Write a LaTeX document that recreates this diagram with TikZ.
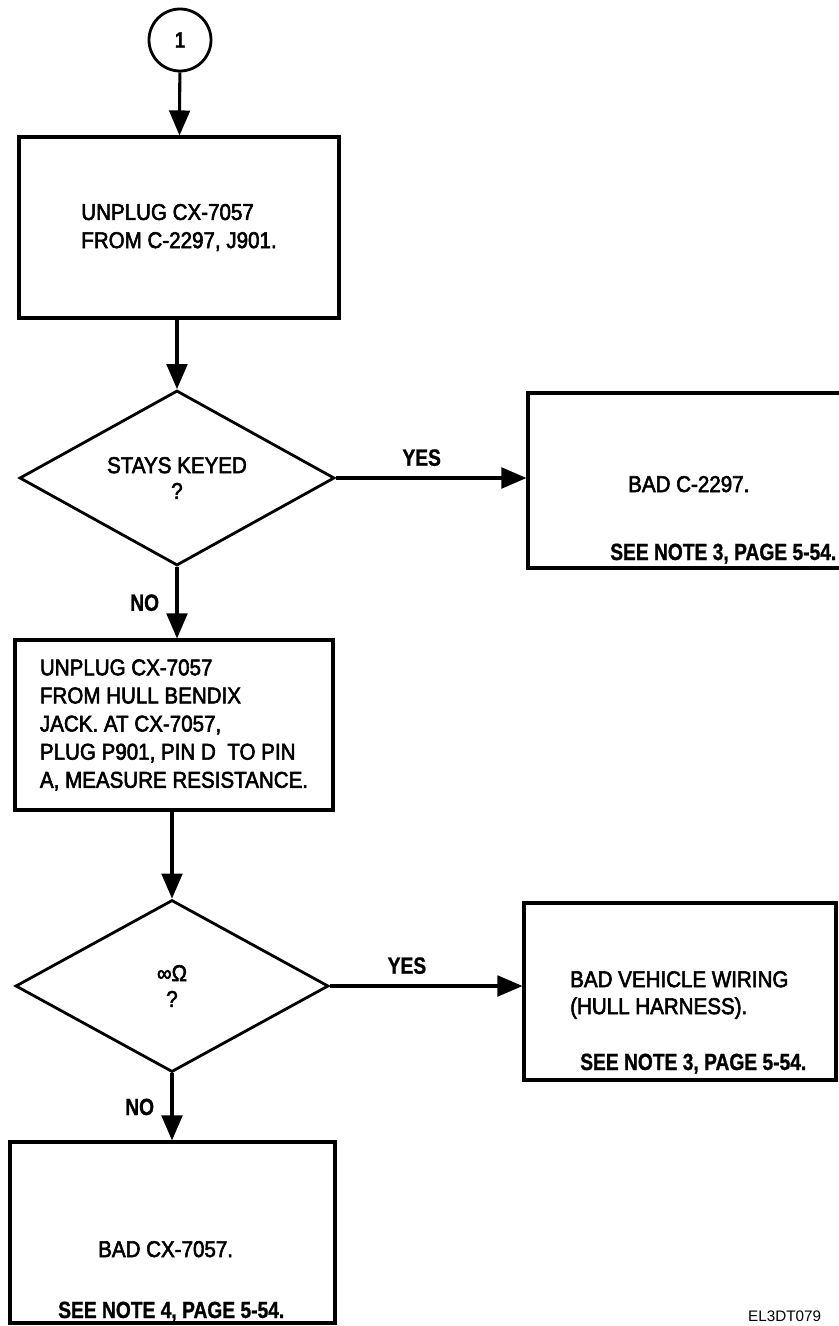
\documentclass[tikz,border=0pt]{standalone}
\usepackage{fontspec}
\setmainfont{Liberation Sans}[FakeStretch=0.9, FakeBold=2.5]
\newfontfamily\notefont{Liberation Sans}[FakeStretch=0.82, FakeBold=1]
\newfontfamily\tagfont{Liberation Sans}
\usetikzlibrary{shapes.geometric, arrows.meta, positioning}

\tikzset{
  stepbox/.style={draw, rectangle, line width=2.6pt, inner sep=0pt},
  askbox/.style={draw, diamond, aspect=1.8, line width=2.4pt, inner sep=0pt, align=center,
    font=\fontsize{19.5}{22}\selectfont},
  flow/.style={line width=2.6pt, -{Triangle[length=0.75cm, width=0.62cm]}},
  txt/.style={font=\fontsize{19.5}{23}\selectfont, align=left, inner sep=0pt},
  note/.style={font=\notefont\bfseries\fontsize{20}{23}\selectfont, inner sep=0pt},
}

\begin{document}
\begin{tikzpicture}[x=0.03cm, y=-0.03cm]
  \useasboundingbox (0,0) rectangle (838,1326);

  % ================= start =================
  \node[draw, circle, line width=2.4pt, minimum size=1.86cm, inner sep=0pt,
    font=\notefont\bfseries\fontsize{19}{22}\selectfont] (c1) at (180,40) {1};

  \node[stepbox, minimum width=9.6cm, minimum height=5.43cm] (step1) at (179,227.5) {};
  \node[txt] (step1t) at (step1.center)
    {UNPLUG CX-7057\\[1pt]FROM C-2297, J901.};

  % ================= first check =================
  \node[askbox, minimum width=9.45cm, minimum height=5.25cm] (d1) at (177,478)
    {STAYS KEYED\\?};

  \node[stepbox, minimum width=9.51cm, minimum height=5.25cm] (bad1) at (686.5,480.5) {};
  \node[txt, anchor=base west] (bad1t) at (628,492) {BAD C-2297.};
  \node[note, anchor=base west] (bad1n) at (610,560) {SEE NOTE 3, PAGE 5-54.};

  \node[stepbox, minimum width=9.54cm, minimum height=5.1cm] (step2) at (174,725) {};
  \node[txt, font=\fontsize{19.5}{24}\selectfont] (step2t) at (step2.center)
    {UNPLUG CX-7057\\FROM HULL BENDIX\\JACK. AT CX-7057,\\PLUG P901, PIN D\ \ TO PIN\\A, MEASURE RESISTANCE.};

  % ================= second check =================
  \node[askbox, minimum width=9.39cm, minimum height=5.16cm] (d2) at (172,986)
    {∞Ω\\?};

  \node[stepbox, minimum width=9.36cm, minimum height=5.31cm] (bad2) at (680,991.5) {};
  \node[txt, anchor=west] (bad2t) at (570,995)
    {BAD VEHICLE WIRING\\(HULL HARNESS).};
  \node[note, anchor=base west] (bad2n) at (580,1070) {SEE NOTE 3, PAGE 5-54.};

  \node[stepbox, minimum width=9.75cm, minimum height=5.43cm] (bad3) at (172.5,1232.5) {};
  \node[txt, anchor=base west] (bad3t) at (98,1257) {BAD CX-7057.};
  \node[note, anchor=base west] (bad3n) at (58,1318) {SEE NOTE 4, PAGE 5-54.};

  \node[font=\tagfont\fontsize{13}{13}\selectfont, anchor=base west, inner sep=0pt] (tag) at (748,1321) {EL3DT079};

  % ================= connectors =================
  \draw[flow] (c1) -- (step1);
  \draw[flow] (d1.north |- step1.south) -- (d1.north);
  \draw[flow] (d1.east) -- (d1.east -| bad1.west)
    node[note, pos=0.45, above=9pt] (yes1) {YES};
  \draw[flow] (d1.south) -- (d1.south |- step2.north)
    node[note, midway, left=14pt] (no1) {NO};
  \draw[flow] (d2.north |- step2.south) -- (d2.north);
  \draw[flow] (d2.east) -- (d2.east -| bad2.west)
    node[note, pos=0.4, above=9pt] (yes2) {YES};
  \draw[flow] (d2.south) -- (d2.south |- bad3.north)
    node[note, midway, left=14pt] (no2) {NO};
\end{tikzpicture}
\end{document}
